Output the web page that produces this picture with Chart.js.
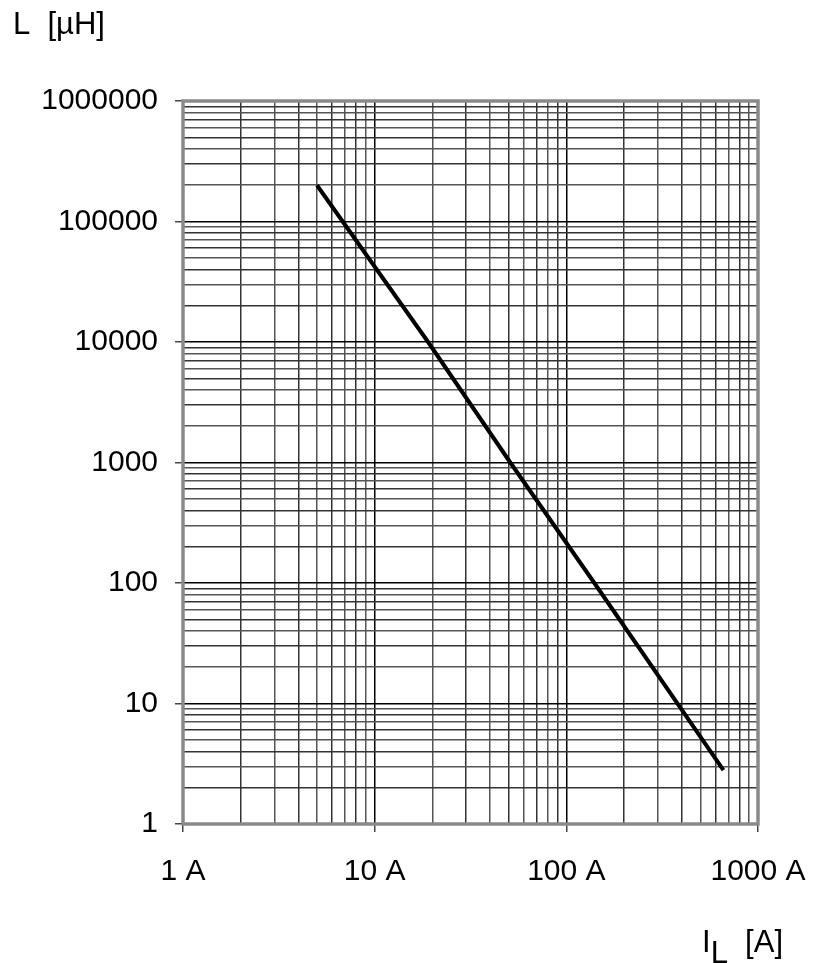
<!DOCTYPE html>
<html>
<head>
<meta charset="utf-8">
<script src="https://cdn.jsdelivr.net/npm/chart.js@4"></script>
<style>
    body { margin: 0; background: #fff; }
    #wrap { position: relative; width: 828px; height: 963px; }
    .lbl { position: absolute; font-family: "Liberation Sans", Arial, sans-serif; font-size: 31px; color: #000; white-space: nowrap; }
    .lbl sub { font-size: 31px; vertical-align: -11px; }
</style>
</head>
<body>
<div id="wrap">
    <canvas id="chart" width="828" height="963"></canvas>
    <div class="lbl" style="left:13px; top:6px;">L&nbsp; [µH]</div>
    <div class="lbl" style="left:702px; top:924px;">I<sub>L</sub>&nbsp; [A]</div>
</div>
<script>
// values
const currentA = [5, 19, 51, 140, 660];
const inductanceUH = [200000, 10000, 1000, 100, 2.8];

const xTickValues = [];
for (let d = 1; d < 1000; d *= 10) for (let m = 1; m < 10; m++) xTickValues.push(m * d);
xTickValues.push(1000);

const yTickValues = [];
for (let d = 1; d < 1000000; d *= 10) for (let m = 1; m < 10; m++) yTickValues.push(m * d);
yTickValues.push(1000000);

const isDecade = v => Math.abs(Math.log10(v) - Math.round(Math.log10(v))) < 1e-9;

const frame = {
    id: "frame",
    afterDatasetsDraw(chart) {
        const a = chart.chartArea;
        const c = chart.ctx;
        c.save();
        c.strokeStyle = "#8a8a8a";
        c.lineWidth = 3.5;
        c.strokeRect(a.left, a.top, a.right - a.left, a.bottom - a.top);
        c.restore();
    }
};

const font = { family: "Liberation Sans, Arial, sans-serif", size: 30 };
const gridColor = c => isDecade(c.tick.value) ? "#000" : (c.index % 2 ? "#333" : "#555");

new Chart(document.getElementById("chart"), {
    type: "line",
    data: {
        datasets: [{
            data: currentA.map((x, i) => ({ x: x, y: inductanceUH[i] })),
            borderColor: "#000",
            borderWidth: 4,
            pointRadius: 0,
            tension: 0
        }]
    },
    options: {
        responsive: false,
        animation: false,
        layout: { padding: { left: 0, top: 101, right: 70, bottom: 0 } },
        plugins: { legend: { display: false }, tooltip: { enabled: false } },
        scales: {
            x: {
                type: "logarithmic",
                min: 1,
                max: 1000,
                afterBuildTicks: s => { s.ticks = xTickValues.map(v => ({ value: v })); },
                afterFit: s => { s.height = 139; },
                ticks: {
                    autoSkip: false,
                    maxRotation: 0,
                    color: "#000",
                    font: font,
                    padding: 22,
                    callback: v => isDecade(v) ? v + " A" : ""
                },
                grid: {
                    color: gridColor,
                    lineWidth: 1.5,
                    tickLength: 8,
                    tickColor: c => isDecade(c.tick.value) ? "#444" : "rgba(0,0,0,0)"
                },
                border: { display: false }
            },
            y: {
                type: "logarithmic",
                min: 1,
                max: 1000000,
                afterBuildTicks: s => { s.ticks = yTickValues.map(v => ({ value: v })); },
                afterFit: s => { s.width = 183; },
                ticks: {
                    autoSkip: false,
                    color: "#000",
                    font: font,
                    padding: 17,
                    callback: v => isDecade(v) ? String(v) : ""
                },
                grid: {
                    color: gridColor,
                    lineWidth: 1.5,
                    tickLength: 8,
                    tickColor: c => isDecade(c.tick.value) ? "#444" : "rgba(0,0,0,0)"
                },
                border: { display: false }
            }
        }
    },
    plugins: [frame]
});
</script>
</body>
</html>
